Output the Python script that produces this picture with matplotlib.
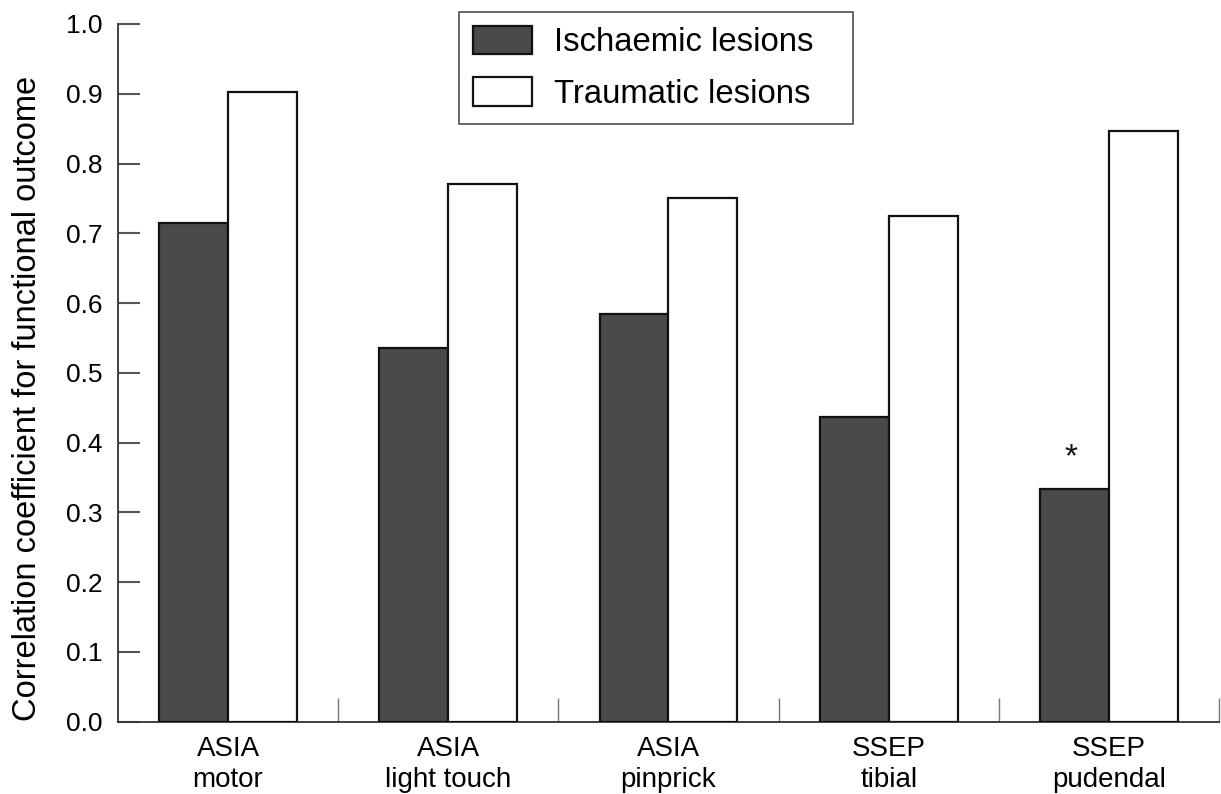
import matplotlib
matplotlib.use('Agg')
import matplotlib.pyplot as plt
import numpy as np

plt.rcParams['font.family'] = ['Liberation Sans', 'DejaVu Sans']

categories = ['ASIA\nmotor', 'ASIA\nlight touch', 'ASIA\npinprick',
              'SSEP\ntibial', 'SSEP\npudendal']
ischaemic = [0.715, 0.535, 0.584, 0.436, 0.334]
traumatic = [0.902, 0.771, 0.750, 0.725, 0.847]
yticks = [0.0, 0.1, 0.2, 0.3, 0.4, 0.5, 0.6, 0.7, 0.8, 0.9, 1.0]
starred = 4  # significant difference marker on pudendal SSEP

fig = plt.figure(figsize=(12.21, 7.94), dpi=100)
ax = fig.add_axes([0.0966, 0.0911, 0.9018, 0.8787])

x = np.arange(len(categories))
w = 0.313
ax.bar(x - w / 2, ischaemic, w, color='#4a4a4a', edgecolor='#111111',
       linewidth=1.6, label='Ischaemic lesions', zorder=3)
ax.bar(x + w / 2, traumatic, w, color='white', edgecolor='#111111',
       linewidth=1.6, label='Traumatic lesions', zorder=3)

ax.text(x[starred] - w / 2 - 0.015, ischaemic[starred] + 0.022, '*',
        ha='center', va='bottom', fontsize=24, color='#111111')

ax.set_xlim(-0.5, len(categories) - 0.5)
ax.set_ylim(0, 1.0)

# group separators as short inward ticks, labels at group centres
ax.set_xticks(x + 0.5)
ax.set_xticklabels([])
ax.tick_params(axis='x', which='major', direction='in', length=17,
               width=1.0, color='#777777')
ax.set_xticks(x, minor=True)
ax.set_xticklabels(categories, minor=True, fontsize=20, linespacing=1.25)
ax.tick_params(axis='x', which='minor', length=0, pad=10)

ax.set_yticks(yticks)
ax.set_yticklabels(['%.1f' % t for t in yticks], fontsize=19)
ax.tick_params(axis='y', direction='in', length=16, width=1.5,
               color='#555555', pad=11)

for s in ['top', 'right']:
    ax.spines[s].set_visible(False)
for s in ['left', 'bottom']:
    ax.spines[s].set_color('#333333')
    ax.spines[s].set_linewidth(1.3)

ax.set_ylabel('Correlation coefficient for functional outcome', fontsize=23.5)
ax.yaxis.set_label_coords(-0.068, 0.464)

leg = ax.legend(loc='upper left', bbox_to_anchor=(0.3097, 1.0172, 0.358, 0.0),
                mode='expand', fontsize=23.7, frameon=True, fancybox=False,
                borderaxespad=0, borderpad=0.42, handlelength=1.8,
                handleheight=0.95, handletextpad=0.66, labelspacing=0.58)
leg.get_frame().set_edgecolor('#222222')
leg.get_frame().set_linewidth(1.2)

fig.savefig('out.png', dpi=100)
